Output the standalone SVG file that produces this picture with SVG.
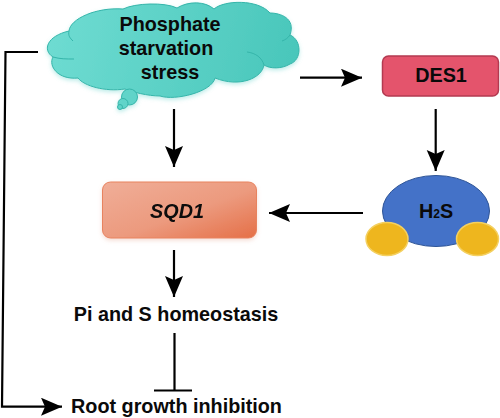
<svg xmlns="http://www.w3.org/2000/svg" width="500" height="418" viewBox="0 0 500 418">
<style>
.t{font-family:"Liberation Sans",Arial,sans-serif;font-weight:700;fill:#0a0a0a;text-anchor:middle;font-size:19.800px}
.c{fill:none;stroke:#000;stroke-width:2.200}
.s{stroke:#35b5aa;stroke-width:1;fill:url(#cg)}
</style>
<defs>
<linearGradient id="cg" gradientUnits="userSpaceOnUse" x1="46" y1="20" x2="300" y2="80"><stop offset="0" stop-color="#6fdcd2"/><stop offset="1" stop-color="#48c6ba"/></linearGradient>
<linearGradient id="sg" x1="0" y1="0" x2="1" y2="1"><stop offset="0" stop-color="#f0ae98"/><stop offset="0.55" stop-color="#ec9a7e"/><stop offset="1" stop-color="#e56f47"/></linearGradient>
<filter id="sh" x="-10%" y="-10%" width="120%" height="125%"><feGaussianBlur in="SourceAlpha" stdDeviation="2"/><feOffset dy="2"/><feColorMatrix values="0 0 0 0 0.2 0 0 0 0 0.7 0 0 0 0 0.65 0 0 0 0.5 0"/><feMerge><feMergeNode/><feMergeNode in="SourceGraphic"/></feMerge></filter>
<filter id="sh2" x="-10%" y="-10%" width="120%" height="125%"><feGaussianBlur in="SourceAlpha" stdDeviation="2"/><feOffset dy="2"/><feColorMatrix values="0 0 0 0 0.8 0 0 0 0 0.4 0 0 0 0 0.3 0 0 0 0.4 0"/><feMerge><feMergeNode/><feMergeNode in="SourceGraphic"/></feMerge></filter>
<marker id="ah" markerUnits="userSpaceOnUse" markerWidth="22" markerHeight="20" refX="21" refY="9" orient="auto"><path d="M0 0L21 9L0 18L4 9Z" fill="#000"/></marker>
</defs>
<g id="connectors">
<path class="c" d="M38 52H5.500L2 406.700H62" marker-end="url(#ah)"/>
<path class="c" d="M174 109V167" marker-end="url(#ah)"/>
<path class="c" d="M300 77.700H362" marker-end="url(#ah)"/>
<path class="c" d="M435.700 109V171" marker-end="url(#ah)"/>
<path class="c" d="M363 213H269" marker-end="url(#ah)"/>
<path class="c" d="M174 250V297" marker-end="url(#ah)"/>
<path class="c" d="M174.500 333V390M154 390.500H192"/>
</g>
<g id="cloud" filter="url(#sh)">
<path class="s" d="M69 31C70 19 96 7 123 9C135 3 165 2 177 8C188 1 205 1 214 9C224 0 258 -1 270 13C280 13 296 18 290 35C302 40 302 60 290 64C282 69 270 69 264 65C262 78 240 88 215 78C212 92 175 101 160 96C148 96 132 92 125 89C105 92 84 86 78 78C58 80 48 66 53 57C42 50 47 36 69 31Z"/>
<path fill="none" stroke="#35b5aa" d="M53 57C60 59 66 59 74 59M69 31C68 36 70 38 73 41M247 52C256 53 262 58 264 65M282 41C285 40 288 38 290 35"/>
<ellipse class="s" cx="129.500" cy="97" rx="8" ry="8"/>
<ellipse class="s" cx="123" cy="103.500" rx="5" ry="5"/>
<ellipse class="s" cx="120" cy="107" rx="2.500" ry="2.500"/>
</g>
<text class="t" x="170" y="31">Phosphate</text>
<text class="t" x="166" y="55">starvation</text>
<text class="t" x="170" y="79">stress</text>
<g id="des1">
<rect x="382.500" y="56" width="116" height="40" rx="6" fill="#e4546c" stroke="#b33a50" stroke-width="1.500"/>
<text class="t" x="441" y="82">DES1</text>
</g>
<g id="h2s">
<ellipse cx="436" cy="211" rx="53.500" ry="35.500" fill="#4472c8" stroke="#2f5597" stroke-width="1"/>
<ellipse cx="387" cy="239" rx="21" ry="16.500" fill="#eeb61e" stroke="#f4d060" stroke-width="1.500"/>
<ellipse cx="477.500" cy="239" rx="21" ry="16.500" fill="#eeb61e" stroke="#f4d060" stroke-width="1.500"/>
<text class="t" x="436" y="218">H<tspan font-size="12">2</tspan>S</text>
</g>
<g id="sqd1" filter="url(#sh2)">
<rect x="102.500" y="182" width="154" height="56" rx="8" fill="url(#sg)" stroke="#e8835f" stroke-width="1"/>
<text class="t" x="177" y="218" font-style="italic">SQD1</text>
</g>
<g id="pi"><text class="t" x="176" y="320.700">Pi and S homeostasis</text></g>
<g id="root"><text class="t" x="176.500" y="412.700">Root growth inhibition</text></g>
</svg>
